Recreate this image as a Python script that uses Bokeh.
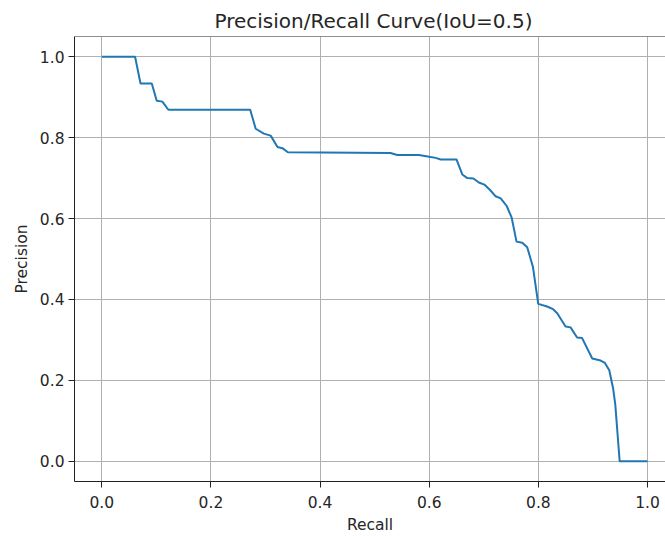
from bokeh.plotting import figure
from bokeh.models import Range1d, FixedTicker, CustomJSTickFormatter, Span
from bokeh.embed import file_html
from bokeh.resources import INLINE

recall = [0.0, 0.061, 0.071, 0.0916, 0.1007, 0.111, 0.122, 0.272, 0.282, 0.297,
          0.3095, 0.322, 0.331, 0.341, 0.529, 0.5415, 0.581, 0.6026, 0.612, 0.621,
          0.650, 0.6606, 0.6698, 0.681, 0.691, 0.701, 0.712, 0.7216, 0.731, 0.742,
          0.751, 0.760, 0.7705, 0.7796, 0.790, 0.7998, 0.816, 0.827, 0.8346, 0.8498,
          0.859, 0.871, 0.880, 0.8987, 0.914, 0.922, 0.930, 0.937, 0.941, 0.949, 1.0]
precision = [1.0, 1.0, 0.934, 0.934, 0.891, 0.889, 0.869, 0.869, 0.822, 0.810,
             0.805, 0.777, 0.774, 0.764, 0.762, 0.757, 0.757, 0.752, 0.750, 0.746,
             0.746, 0.709, 0.700, 0.699, 0.689, 0.684, 0.670, 0.655, 0.650, 0.631,
             0.603, 0.543, 0.540, 0.529, 0.481, 0.389, 0.3826, 0.376, 0.366, 0.333,
             0.331, 0.306, 0.305, 0.254, 0.249, 0.243, 0.225, 0.18, 0.14, 0.0, 0.0]
ticks = [0.0, 0.2, 0.4, 0.6, 0.8, 1.0]

FONT = "DejaVu Sans"
TXT = "#262626"
fmt = CustomJSTickFormatter(code="return tick.toFixed(1);")

p = figure(width=665, height=536, output_backend="svg", toolbar_location=None,
           x_range=Range1d(-0.05, 1.033), y_range=Range1d(-0.05, 1.05),
           title="Precision/Recall Curve(IoU=0.5)",
           min_border_left=74, min_border_right=0, min_border_top=36, min_border_bottom=54)
p.outline_line_color = None

p.title.text_font = FONT
p.title.text_font_size = "20px"
p.title.text_font_style = "normal"
p.title.align = "left"
p.title.offset = 140
p.title.standoff = 8
p.title.text_color = TXT

p.line(recall, precision, line_color="#1f77b4", line_width=2)

for ax in (p.xaxis[0], p.yaxis[0]):
    ax.ticker = FixedTicker(ticks=ticks)
    ax.formatter = fmt
    ax.major_label_text_font = FONT
    ax.major_label_text_font_size = "15.5px"
    ax.major_label_text_color = TXT
    ax.axis_label_text_font = FONT
    ax.axis_label_text_font_size = "15.5px"
    ax.axis_label_text_font_style = "normal"
    ax.axis_label_text_color = TXT
    ax.major_tick_out = 6
    ax.major_tick_in = 0
    ax.major_tick_line_color = "#222222"
    ax.minor_tick_line_color = None
    ax.axis_line_color = "#222222"
    ax.axis_line_width = 1
p.xaxis[0].axis_label = "Recall"
p.yaxis[0].axis_label = "Precision"
p.xaxis[0].major_label_standoff = 8
p.xaxis[0].axis_label_standoff = 5
p.yaxis[0].major_label_standoff = 4
p.yaxis[0].axis_label_standoff = 6

# top frame border (the right one lies outside the cropped reference)
p.add_layout(Span(location=p.y_range.end, dimension="width",
                  line_color="#222222", line_width=1))

p.xgrid.ticker = FixedTicker(ticks=ticks)
p.ygrid.ticker = FixedTicker(ticks=ticks)
p.grid.grid_line_color = "#b0b0b0"
p.grid.grid_line_width = 1

open("out.html", "w").write(file_html(p, INLINE))
